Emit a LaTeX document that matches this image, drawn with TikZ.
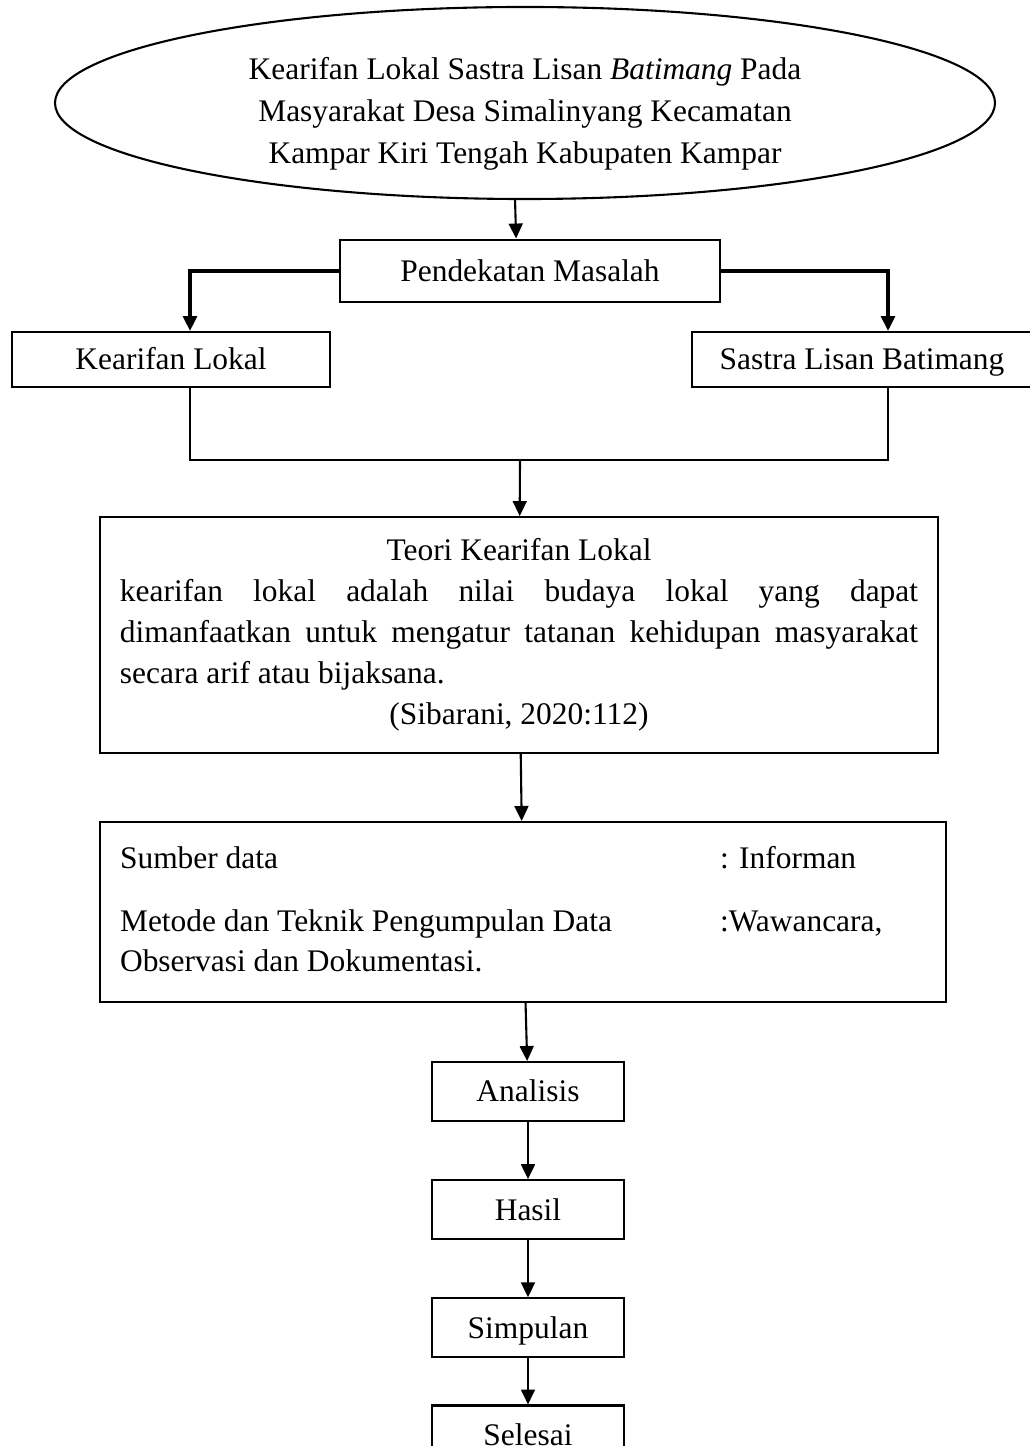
\documentclass[tikz,border=0pt]{standalone}
\usepackage{fontspec}
\setmainfont{Liberation Serif}
\usetikzlibrary{shapes.geometric, arrows.meta, positioning}

\begin{document}
\begin{tikzpicture}[
  x=0.3817pt, y=-0.3817pt,
  line width=0.8pt,
  node distance=21.8pt,
  proc/.style={rectangle, draw, inner sep=0pt, align=center, font=\fontsize{12}{15.3}\selectfont},
  single/.style={proc, text height=10pt, text depth=2pt},
  stage/.style={single, minimum width=73.3pt, minimum height=22.5pt},
  flow/.style={draw, -{Triangle[length=5.7pt, width=5.3pt]}},
]
  \useasboundingbox (0,0) rectangle (1029,1446);

  \node[ellipse, draw, minimum width=358.8pt, minimum height=73.3pt, inner sep=0pt, align=center, font=\fontsize{12}{16}\selectfont] (title) at (525,103) {\rule{0pt}{17pt}Kearifan Lokal Sastra Lisan \textit{Batimang} Pada\\Masyarakat Desa Simalinyang Kecamatan\\Kampar Kiri Tengah Kabupaten Kampar};
  \node[single, minimum width=145pt, minimum height=24pt] (approach) at (530,271) {Pendekatan Masalah};
  \node[single, minimum width=121.4pt, minimum height=21pt] (wisdom) at (171,359.5) {Kearifan Lokal};
  \node[single, minimum width=129.8pt, minimum height=21pt] (oral) at (862,359.5) {Sastra Lisan Batimang};

  \node[proc, minimum width=319.9pt, minimum height=90pt, text width=304.6pt, align=justify, font=\fontsize{12}{15.7}\selectfont] (theory) at (519,635) {\parindent=0pt \hyphenpenalty=10000 \tolerance=10000
    {\centering Teori Kearifan Lokal\par}
    kearifan lokal adalah nilai budaya lokal yang dapat\linebreak
    dimanfaatkan untuk mengatur tatanan kehidupan masyarakat\linebreak
    secara arif atau bijaksana.\par
    {\centering (Sibarani, 2020:112)\par}};

  \node[proc, minimum width=322.9pt, minimum height=68.7pt, text width=307.6pt, align=justify] (data) at (523,912) {\noindent\begin{tabular}{@{}l@{}l@{}}
    \makebox[229pt][l]{Sumber data} & : Informan\\[8.8pt]
    \makebox[229pt][l]{Metode dan Teknik Pengumpulan Data} & :Wawancara,\\
    Observasi dan Dokumentasi. &
  \end{tabular}};

  \node[stage] (analysis) at (528,1091.5) {Analisis};
  \node[stage, below=of analysis] (result) {Hasil};
  \node[stage, below=of result] (conclusion) {Simpulan};
  \node[stage, below=17.6pt of conclusion] (finish) {Selesai};

  \coordinate (jl) at (190,460);
  \coordinate (jr) at (888,460);
  \coordinate (join) at (520,460);

  \draw[flow] ([xshift=-3.8pt]title.south) -- ([xshift=-5.3pt]approach.north);
  \draw[flow, line width=1.2pt] (approach.west) -| (wisdom.north -| jl);
  \draw[flow, line width=1.2pt] (approach.east) -| (oral.north -| jr);
  \draw (wisdom.south -| jl) -- (jl) -- (jr) -- (oral.south -| jr);
  \draw[flow] (join) -- (theory);
  \draw[flow] (theory) -- (data);
  \draw[flow] (data) -- (analysis);
  \draw[flow] (analysis) -- (result);
  \draw[flow] (result) -- (conclusion);
  \draw[flow] (conclusion) -- (finish);
\end{tikzpicture}
\end{document}
